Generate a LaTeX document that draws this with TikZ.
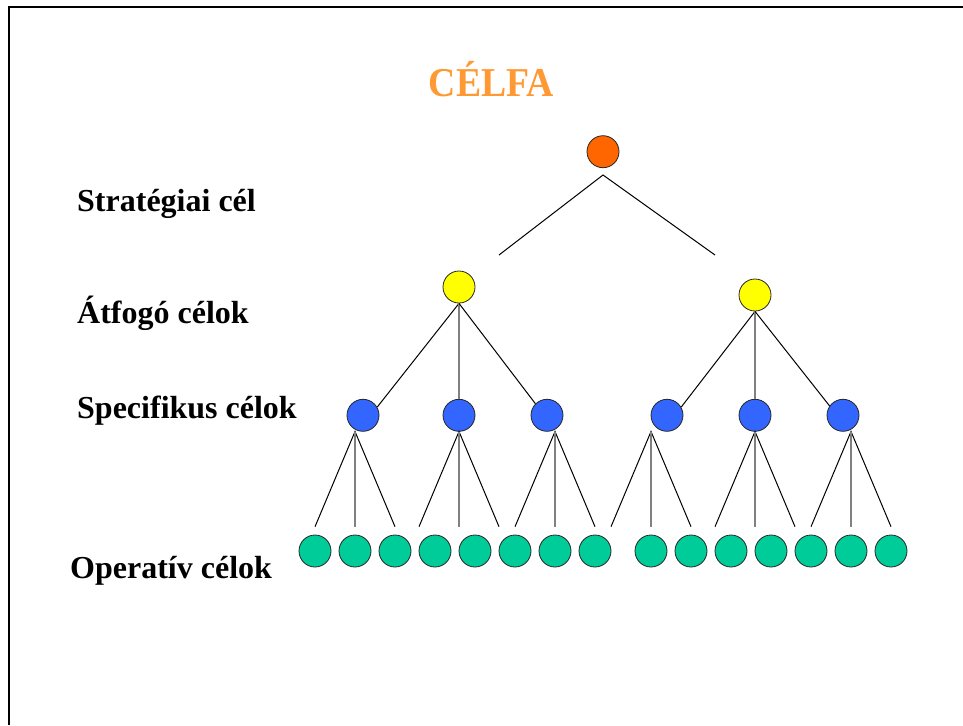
\documentclass[tikz,border=0pt]{standalone}
\usepackage{fontspec}
\setmainfont{Liberation Serif}
\definecolor{torange}{HTML}{FF9933}
\definecolor{corange}{HTML}{FF6600}
\definecolor{cyellow}{HTML}{FFFF00}
\definecolor{cblue}{HTML}{3366FF}
\definecolor{cgreen}{HTML}{00CC99}
\definecolor{vgray}{HTML}{808080}
\begin{document}
\begin{tikzpicture}[x=1pt,y=-1pt,
  dot/.style={circle, draw=black!85, line width=0.8pt, minimum size=32pt, inner sep=0pt},
  thinline/.style={black, line width=1pt},
  vline/.style={vgray, line width=2pt},
  lab/.style={anchor=base west, inner sep=0pt, font=\fontsize{32}{38}\selectfont\bfseries}]
\useasboundingbox (0,0) rectangle (963,725);
\fill[white] (0,0) rectangle (963,725);
% frame
\draw[line width=2pt] (963,7) -- (9.3,7) -- (9.3,725);
% title
\node[anchor=base, inner sep=0pt, text=torange, font=\fontsize{41}{48}\selectfont\bfseries] (title) at (491.5,96) {\scalebox{0.92}[1]{CÉLFA}};
% labels
\node[lab] (l1) at (77,211.7) {Stratégiai cél};
\node[lab] (l2) at (77,323.3) {Átfogó célok};
\node[lab] (l3) at (77,418) {Specifikus célok};
\node[lab] (l4) at (70,578.3) {Operatív célok};
% nodes
\node[dot, fill=corange] (o) at (603,151.7) {};
\node[dot, fill=cyellow] (y1) at (459,287) {};
\node[dot, fill=cyellow] (y2) at (755,295) {};
\foreach \i/\x in {1/363,2/459,3/547,4/667,5/755,6/843}
  \node[dot, fill=cblue] (b\i) at (\x,415.3) {};
\foreach \i/\x in {1/315,2/355,3/395,4/435,5/475,6/515,7/555,8/595,9/651,10/691,11/731,12/771,13/811,14/851,15/891}
  \node[dot, fill=cgreen] (g\i) at (\x,551) {};
% top connectors (free ends)
\coordinate (oa) at (603,175);
\coordinate (tl) at (499,255);
\coordinate (tr) at (715,255);
\draw[thinline] (tl) -- (oa) -- (tr);
% yellow to blue
\draw[thinline] (y1.south) -- (b1.30);
\draw[vline] (y1.south) -- (b2.north);
\draw[thinline] (y1.south) -- (b3.135);
\draw[thinline] (y2.south) -- (b4.30);
\draw[vline] (y2.south) -- (b5.north);
\draw[thinline] (y2.south) -- (b6.145);
% blue to feet
\foreach \a/\c in {1/355,2/459,3/555,4/651,5/755,6/851}{
  \coordinate (a\a) at (\c,431.5);
  \coordinate (fl\a) at (\c-40,526.7);
  \coordinate (fm\a) at (\c,526.7);
  \coordinate (fr\a) at (\c+40,526.7);
  \draw[thinline] (fl\a) -- (a\a) -- (fr\a);
  \draw[vline] (a\a) -- (fm\a);
}
\end{tikzpicture}
\end{document}
